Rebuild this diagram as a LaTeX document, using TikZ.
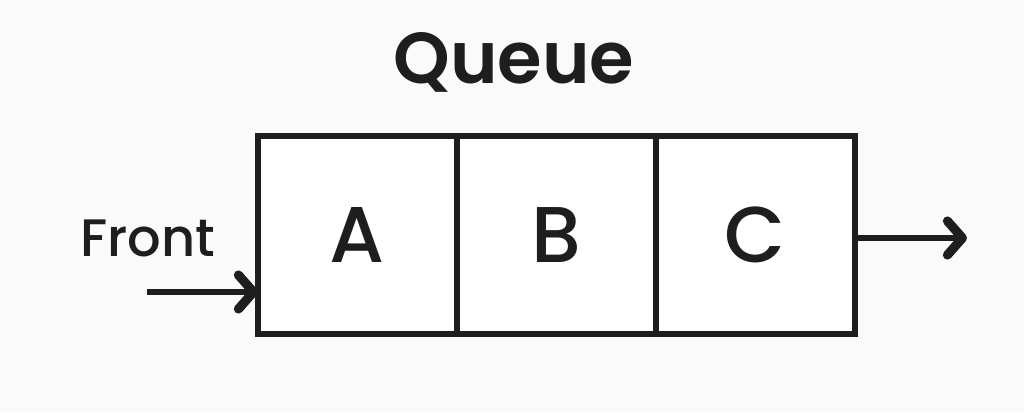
\documentclass[tikz,border=0pt]{standalone}
\usepackage{fontspec}
\setmainfont{Poppins}
\newfontfamily\medfont{Poppins Medium}
\newfontfamily\semifont{Poppins SemiBold}
\usetikzlibrary{arrows.meta,positioning}
\definecolor{ink}{HTML}{1E1E1E}
\definecolor{paper}{HTML}{FAFAFA}
\begin{document}
\begin{tikzpicture}
        [cell/.style={rectangle,draw=ink,fill=white,line width=1.85pt,minimum width=1.99cm,minimum height=1.98cm,inner sep=0pt,outer sep=0pt,font=\medfont\fontsize{22.5}{26}\selectfont,text=ink},
        label/.style={text=ink,inner sep=0pt},
        pointer/.style={line width=1.5pt,draw=ink,-{Straight Barb[length=1.5mm,width=3.4mm,line width=2.6pt,line cap=round,line join=round]}}]
        \fill[paper] (0,0) rectangle (10.24,4.12);
        \useasboundingbox (0,0) rectangle (10.24,4.12);
        
        \node[label,anchor=base,font=\semifont\fontsize{20.5}{24}\selectfont] (T) at (5.14,3.29) {Queue};
        
        \node[cell] (A) at (3.575,1.77) {A};
        \node[cell,right=0pt of A] (B) {B};
        \node[cell,right=0pt of B] (C) {C};
        
        \node[label,font=\medfont\fontsize{15}{18}\selectfont] (F) at (1.48,1.74) {Front};
        \coordinate (frontin) at (1.47,1.20);
        \coordinate (rear) at (9.67,1.74);
        
        \draw[pointer] (frontin) -- (A.west |- frontin);
        \draw[pointer] (C.east |- rear) -- (rear);
    
    \end{tikzpicture}
\end{document}
